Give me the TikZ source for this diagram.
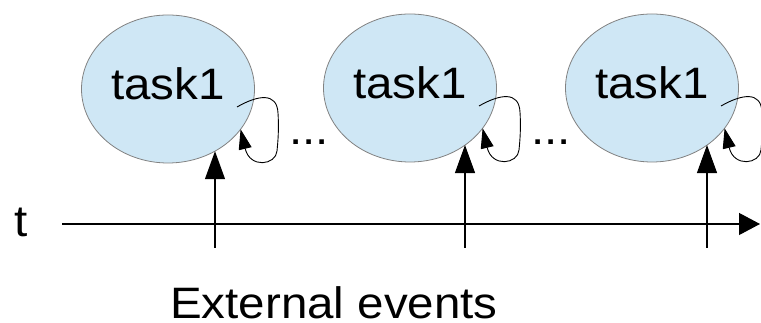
\documentclass[tikz,border=0pt]{standalone}
\usepackage{fontspec}
\setmainfont{Liberation Sans}[FakeStretch=1.08]
\usetikzlibrary{arrows.meta,shapes.geometric}
\definecolor{taskfill}{RGB}{207,231,245}
\definecolor{taskline}{RGB}{130,130,130}
\begin{document}
\begin{tikzpicture}[x=1pt,y=1pt,
  bigtext/.style={font=\fontsize{44pt}{50pt}\selectfont, inner sep=0pt},
  taskbox/.style={ellipse, draw=taskline, line width=0.8pt, fill=taskfill,
    minimum width=173pt, minimum height=148pt, inner sep=0pt, outer sep=0pt,
    bigtext, text height=24pt, text depth=2pt},
  eventarrow/.style={line width=1.1pt, -{Triangle[length=28pt,width=20pt]}},
  selfloop/.style={line width=0.9pt, -{Triangle[length=20pt,width=13pt]}},
  axisline/.style={line width=1.2pt, -{Triangle[length=21pt,width=22pt]}}]
\useasboundingbox (0,0) rectangle (761,323);

% tasks
\node[taskbox] (t1) at (168,234) {task1};
\node[taskbox] (t2) at (410,235) {task1};
\node[taskbox] (t3) at (652,235) {task1};

% self loops on each task
\foreach \t in {t1,t2,t3}{
  \coordinate (\t s) at ([shift={(69pt,-18pt)}]\t.center);
  \draw[selfloop] (\t s)
    .. controls ([shift={(90pt,-6pt)}]\t.center) and ([shift={(109pt,-3pt)}]\t.center)
    .. ([shift={(110pt,-24pt)}]\t.center)
    .. controls ([shift={(111pt,-40pt)}]\t.center) and ([shift={(110pt,-52pt)}]\t.center)
    .. ([shift={(109pt,-62pt)}]\t.center)
    .. controls ([shift={(108pt,-76pt)}]\t.center) and ([shift={(82pt,-80pt)}]\t.center)
    .. (\t.-29);
}

% gaps between the tasks
\node[bigtext, anchor=base] (d1) at (309,178) {...};
\node[bigtext, anchor=base] (d2) at (551,178) {...};

% time axis
\node[bigtext, anchor=base] (tl) at (21,86) {t};
\coordinate (a0) at (62,99);
\coordinate (a1) at (760,99);
\draw[axisline] (a0) -- (a1);

% external events
\coordinate (e1) at (215,75);
\coordinate (e2) at (465,75);
\coordinate (e3) at (707,75);
\draw[eventarrow] (e1) -- (e1 |- t1.-53);
\draw[eventarrow] (e2) -- (e2 |- t2.-46);
\draw[eventarrow] (e3) -- (e3 |- t3.-46);

\node[bigtext, anchor=base] (ext) at (334,4) {External events};
\end{tikzpicture}
\end{document}
